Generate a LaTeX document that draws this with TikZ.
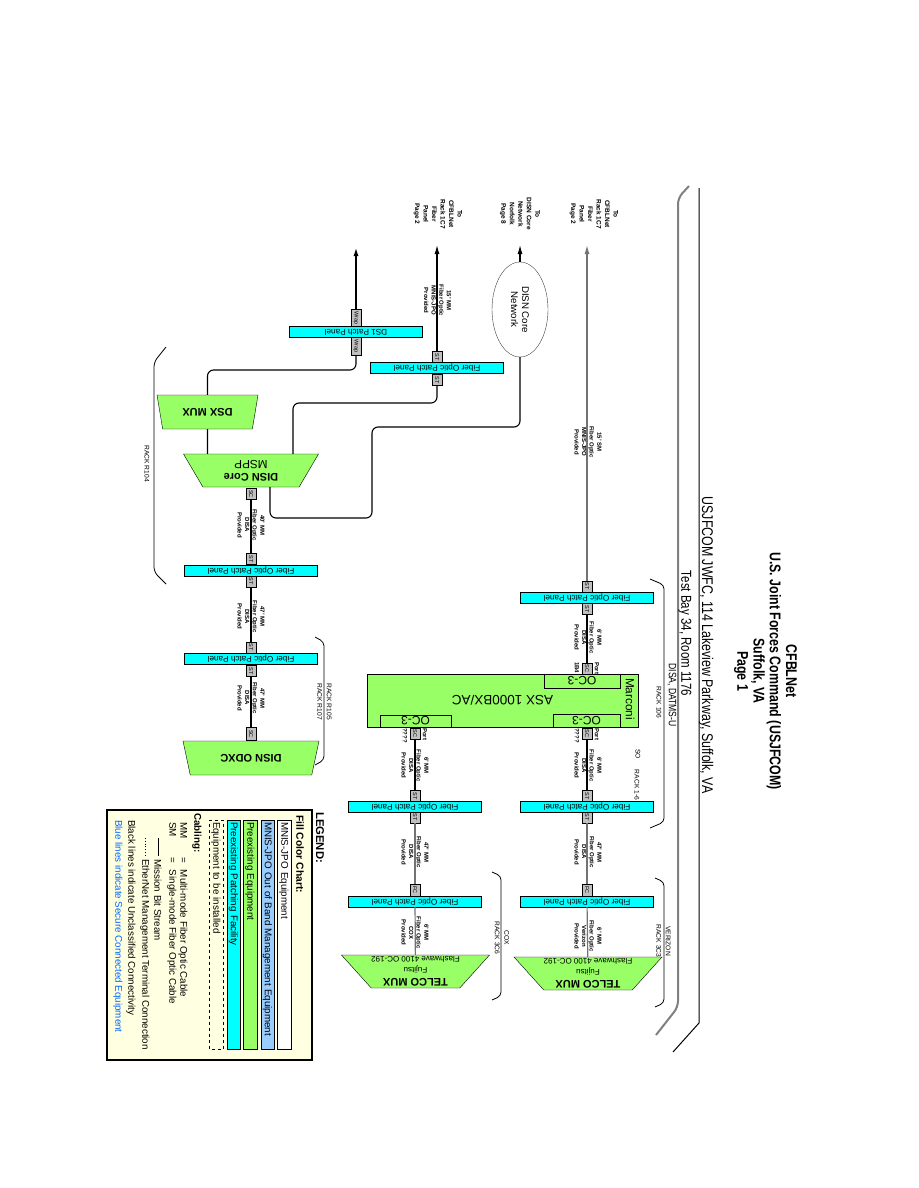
\documentclass[tikz,border=0pt]{standalone}
\usepackage{fontspec}
\setmainfont{Liberation Sans}
\newfontfamily\condfont[FakeStretch=0.8]{Liberation Sans}
\usetikzlibrary{shapes.geometric,arrows.meta}

\begin{document}
\begin{tikzpicture}[
    x=1pt,y=-1pt,
    font=\fontsize{8}{9}\selectfont,
    fiber/.style={line width=1.1pt},
    fibergray/.style={line width=1.2pt,draw=black!55},
    toarrow/.style={-{Latex[length=9pt,width=5pt]}},
    rackline/.style={line width=.8pt,rounded corners=4pt},
    panel/.style={draw,fill=patchcyan,rotate=180,minimum width=133pt,
      minimum height=11pt,inner sep=0pt,font=\fontsize{8.2}{9}\selectfont},
    plug/.style={draw,fill=pluggray,rotate=-90,minimum width=11pt,
      minimum height=10pt,inner sep=0pt,font=\fontsize{5.5}{6}\selectfont},
    cablelabel/.style={rotate=-90,align=center,inner sep=0pt,
      font=\bfseries\fontsize{6}{7.6}\selectfont},
    tolabel/.style={rotate=-90,align=center,inner sep=0pt,
      font=\bfseries\fontsize{6.5}{8.5}\selectfont},
    racklabel/.style={rotate=-90,align=center,inner sep=0pt,
      font=\fontsize{6.7}{9.5}\selectfont},
    portlabel/.style={rotate=-90,anchor=west,inner sep=0pt,
      font=\bfseries\fontsize{6}{7}\selectfont},
    mux/.style={trapezium,trapezium stretches body,draw,fill=equipgreen,
      rotate=180,minimum height=33pt,inner sep=0pt,align=center,
      font=\bfseries\fontsize{11}{12}\selectfont},
    ocbox/.style={draw,rotate=180,inner sep=0pt,font=\fontsize{12}{12}\selectfont},
    head/.style={rotate=-90,inner sep=0pt},
    legbar/.style={draw,rotate=-90,minimum width=229pt,minimum height=13.5pt,
      inner sep=0pt,text width=225pt,align=left,font=\fontsize{9.8}{10}\selectfont},
    legtext/.style={rotate=-90,anchor=west,inner sep=0pt,
      font=\fontsize{9.8}{10}\selectfont}
  ]
    \definecolor{patchcyan}{HTML}{00FFFF}
    \definecolor{equipgreen}{HTML}{99FF66}
    \definecolor{pluggray}{HTML}{C0C0C0}
    \definecolor{oobblue}{HTML}{99CCFF}
    \definecolor{legendbg}{HTML}{FFFFE1}
    \definecolor{secblue}{HTML}{0066FF}
    \path[use as bounding box] (0,0) rectangle (918,1188);

    % page frame
    \draw[line width=1pt] (699,188) -- (699,1023) -- (673,1052);
    \draw[line width=2pt,draw=black!50,rounded corners=6pt] (689,186) -- (678,198) -- (678,1007) -- (656,1035);

    % header
    \node[head,align=center,font=\condfont\bfseries\fontsize{15.5}{16.3}\selectfont] (title) at (765.5,671)
      {CFBLNet\\U.S. Joint Forces Command (USJFCOM)\\Suffolk, VA\\Page 1};
    \node[head,font=\condfont\fontsize{15.5}{16}\selectfont] (addr) at (706,645)
      {USJFCOM JWFC, 114 Lakeview Parkway, Suffolk, VA};
    \node[head,font=\condfont\fontsize{14.4}{15}\selectfont] (bay) at (685,633.5) {Test Bay 34, Room 1176};
    \node[head,font=\condfont\fontsize{10.7}{11}\selectfont] (datms) at (672,695) {DISA, DATMS-U};

    % rack 106
    \draw[rackline] (650,579) -- (664,585) -- (664,822) -- (650,828);
    \node[racklabel] (r106) at (659,702.5) {RACK 106};
    \node[racklabel] (so) at (638,754) {SO};
    \node[racklabel] (r16) at (637,785) {RACK 1-6};

    % right column
    \coordinate (rtip) at (587,245);
    \node[tolabel] (rto) at (594,214) {To\\CFBLNet\\Rack 1C7\\Fiber\\Panel\\Page 2};
    \node[cablelabel] (rc1) at (588,442) {15' SM\\Fiber Optic\\MNIS-JPO\\Provided};
    \node[plug] (rst1) at (587,586.5) {ST};
    \node[panel] (rpan1) at (587,597.5) {Fiber Optic Patch Panel};
    \node[plug] (rst2) at (587,609) {ST};
    \node[cablelabel] (rc2) at (588,637.5) {6' MM\\Fiber Optic\\DISA\\Provided};

    % marconi switch
    \node[draw,fill=equipgreen,rotate=180,minimum width=271pt,minimum height=53pt,
      inner sep=0pt,font=\fontsize{13.5}{14}\selectfont] (asx) at (502.5,700.5) {ASX 1000BX/AC};
    \node[ocbox,minimum width=76pt,minimum height=14pt] (ocr1) at (582,681) {OC-3};
    \node[ocbox,minimum width=67pt,minimum height=13pt] (ocr2) at (586.5,720.5) {OC-3};
    \node[ocbox,minimum width=71pt,minimum height=12pt] (ocl) at (415.5,721) {OC-3};
    \node[head,font=\fontsize{11.8}{12}\selectfont] (marconi) at (630,699) {Marconi};
    \node[plug] (rsc1) at (587,668.5) {SC};
    \node[portlabel] at (597,662) {Port};
    \node[portlabel] at (577,662) {1B4};
    \node[plug] (rsc2) at (587,733.5) {SC};
    \node[portlabel] at (597,728) {Port};
    \node[portlabel] at (577,728) {????};
    \node[plug] (msc) at (415,733.5) {SC};
    \node[portlabel] at (425,728) {Port};
    \node[portlabel] at (405,728) {????};

    % right column below switch
    \node[cablelabel] (rc3) at (588,765.5) {6' MM\\Fiber Optic\\DISA\\Provided};
    \node[plug] (rst3) at (587,796) {ST};
    \node[panel] (rpan2) at (587,807) {Fiber Optic Patch Panel};
    \node[plug] (rst4) at (587,817.5) {ST};
    \node[cablelabel] (rc4) at (588,852) {47' MM\\Fiber Optic\\DISA\\Provided};
    \node[plug,minimum width=12pt] (rfc) at (587,890) {FC};
    \node[panel] (rpan3) at (587,901.5) {Fiber Optic Patch Panel};
    \node[cablelabel] (rc5) at (588,936) {6' MM\\Fiber Optic\\Verizon\\Provided};
    \node[mux,minimum width=136pt,trapezium angle=45] (vzmux) at (588,973.5)
      {TELCO MUX\\[-1pt]{\mdseries\fontsize{8}{8}\selectfont Fujitsu}\\[-1pt]{\mdseries\fontsize{8}{8}\selectfont Flashwave 4100 OC-192}};
    \draw[rackline] (655,878) -- (664,882) -- (664,1003) -- (655,1007);
    \node[racklabel] (vzrack) at (663.5,941) {VERIZON\\RACK 3C3};

    % middle column below switch
    \node[cablelabel] (mc3) at (415,765.5) {6' MM\\Fiber Optic\\DISA\\Provided};
    \node[plug] (mst3) at (415,796) {ST};
    \node[panel] (mpan2) at (415,807) {Fiber Optic Patch Panel};
    \node[plug] (mst4) at (415,817.5) {ST};
    \node[cablelabel] (mc4) at (415,852) {47' MM\\Fiber Optic\\DISA\\Provided};
    \node[plug,minimum width=12pt] (mfc) at (415,890) {FC};
    \node[panel] (mpan3) at (415,901.5) {Fiber Optic Patch Panel};
    \node[cablelabel] (mc5) at (415,932.5) {6' MM\\Fiber Optic\\COX\\Provided};
    \node[mux,minimum width=135pt,trapezium angle=45] (coxmux) at (415.5,971.5)
      {TELCO MUX\\[-1pt]{\mdseries\fontsize{8}{8}\selectfont Fujitsu}\\[-1pt]{\mdseries\fontsize{8}{8}\selectfont Flashwave 4100 OC-192}};
    \draw[rackline] (492,872) -- (501,876) -- (501,996) -- (492,1000);
    \node[racklabel] (coxrack) at (502,938) {COX\\RACK 3C6};

    % DISN core network
    \coordinate (dtip) at (520,245);
    \node[tolabel] (dto) at (520,214) {To\\DISN Core\\Network\\Norfolk\\Page 8};
    \node[ellipse,draw=black!75,fill=white,rotate=-90,minimum width=95pt,minimum height=56pt,
      inner sep=0pt,align=center,font=\fontsize{9.7}{11}\selectfont] (dcn) at (520,309.5) {DISN Core\\Network};

    % fiber panel to MSPP
    \coordinate (ftip) at (437,245);
    \node[tolabel] (fto) at (438,214) {To\\CFBLNet\\Rack 1C7\\Fiber\\Panel\\Page 2};
    \node[cablelabel] (fc1) at (437.5,300.5) {15' MM\\Fiber Optic\\MNIS-JPO\\Provided};
    \node[plug] (fst1) at (437,357) {ST};
    \node[panel] (fpan) at (437,368) {Fiber Optic Patch Panel};
    \node[plug] (fst2) at (437,380) {ST};

    % DS1
    \coordinate (wtip) at (356,247);
    \node[plug,minimum width=18pt] (wrap1) at (356,318) {Wrap};
    \node[panel] (ds1pan) at (356,332) {DS1 Patch Panel};
    \node[plug,minimum width=18pt] (wrap2) at (356,346) {Wrap};

    % rack R104
    \draw[rackline,rounded corners=5pt] (166,347) -- (154,362) -- (154,572) -- (166,584);
    \node[racklabel] (r104) at (147,463.5) {RACK R104};
    \node[mux,minimum width=101pt,minimum height=34pt,trapezium angle=54] (dsxmux) at (207.5,412) {DSX MUX};
    \node[mux,minimum width=135pt,trapezium angle=47] (mspp) at (251,470.5)
      {DISN Core\\[1pt]{\mdseries\fontsize{11.8}{12}\selectfont MSPP}};
    \node[plug] (msppsc) at (251,494) {SC};
    \node[cablelabel] (lc1) at (251,525) {40' MM\\Fiber Optic\\DISA\\Provided};

    % left column
    \node[plug] (lst1) at (251,559) {ST};
    \node[panel] (lpan1) at (251,570.5) {Fiber Optic Patch Panel};
    \node[plug] (lst2) at (251,581.5) {ST};
    \node[cablelabel] (lc2) at (251,616.5) {47' MM\\Fiber Optic\\DISA\\Provided};
    \node[plug] (lst3) at (251,647.5) {ST};
    \node[panel] (lpan2) at (251,659) {Fiber Optic Patch Panel};
    \node[plug] (lst4) at (251,671) {ST};
    \node[cablelabel] (lc3) at (251,698) {47' MM\\Fiber Optic\\DISA\\Provided};
    \node[plug,minimum width=13pt] (odxcsc) at (251,734) {SC};
    \node[mux,minimum width=136pt,minimum height=34pt,trapezium angle=47] (odxc) at (251,758) {DISN ODXC};
    \draw[rackline] (315,637) -- (324,642) -- (324,760) -- (315,765);
    \node[racklabel] (r105) at (324.5,701.5) {RACK R105\\RACK R107};

    % cabling
    \draw[fibergray,toarrow] (rst1) -- (rtip);
    \draw[fiber] (rst2) -- (rsc1);
    \draw[fiber] (rsc2) -- (rst3);
    \draw[fibergray] (rst4) -- (rfc);
    \draw[fibergray] (rpan3) -- (vzmux);
    \draw[fiber] (msc) -- (mst3);
    \draw[fibergray] (mst4) -- (mfc);
    \draw[fibergray] (mpan3) -- (coxmux);
    \draw[fiber,toarrow] (dcn) -- (dtip);
    \draw[fiber,rounded corners=6pt] ([xshift=19pt]mspp.north) |- (372,518) |- (520,427) -- (dcn);
    \draw[fiber,toarrow] (fst1) -- (ftip);
    \draw[fiber,rounded corners=6pt] (fst2) |- (293,403) -- ([xshift=42pt]mspp.south);
    \draw[line width=2pt,toarrow] (wrap1) -- (wtip);
    \draw[fiber,rounded corners=6pt] (wrap2) |- (207.5,370) -- (dsxmux);
    \draw[fiber] (dsxmux) -- (dsxmux |- mspp.south);
    \draw[fiber] (msppsc) -- (lst1);
    \draw[fiber] (lst2) -- (lst3);
    \draw[fiber] (lst4) -- (odxcsc);

    % legend
    \node[legtext,font=\bfseries\fontsize{11.3}{12}\selectfont] (legtitle) at (320,812) {LEGEND:};
    \draw[line width=1.2pt,fill=legendbg] (107,810) rectangle (312,1060);
    \node[legtext,font=\bfseries\fontsize{10.3}{11}\selectfont] (fillchart) at (300,815) {Fill Color Chart:};
    \node[legbar,fill=white] (bar1) at (284,934.5) {MNIS-JPO Equipment};
    \node[legbar,fill=oobblue] (bar2) at (267.5,934.5) {MNIS-JPO Out of Band Management Equipment};
    \node[legbar,fill=equipgreen] (bar3) at (250,934.5) {Preexisting Equipment};
    \node[legbar,fill=patchcyan] (bar4) at (233.5,934.5) {Preexisting Patching Facility};
    \node[legbar,dashed] (bar5) at (216,934.5) {Equipment to be installed};
    \node[legtext,font=\bfseries\fontsize{9.8}{10}\selectfont] (cabling) at (197,813) {Cabling:};
    \node[legtext] (mmtext) at (183,822) {\makebox[35pt][l]{MM}=\hspace{7pt}Multi-mode Fiber Optic Cable};
    \node[legtext] (smtext) at (172,822) {\makebox[35pt][l]{SM}=\hspace{7pt}Single-mode Fiber Optic Cable};
    \draw[line width=.8pt] (158,838) -- (158,856);
    \node[legtext] (mbs) at (158,859) {Mission Bit Stream};
    \draw[line width=.8pt,dotted] (145,838) -- (145,856);
    \node[legtext] (ether) at (145,859) {EtherNet Management Terminal Connection};
    \node[legtext] (blacklines) at (131,820) {Black lines indicate Unclassified Connectivity};
    \node[legtext,text=secblue] (bluelines) at (118,820) {Blue lines indicate Secure Connected Equipment};
\end{tikzpicture}
\end{document}
